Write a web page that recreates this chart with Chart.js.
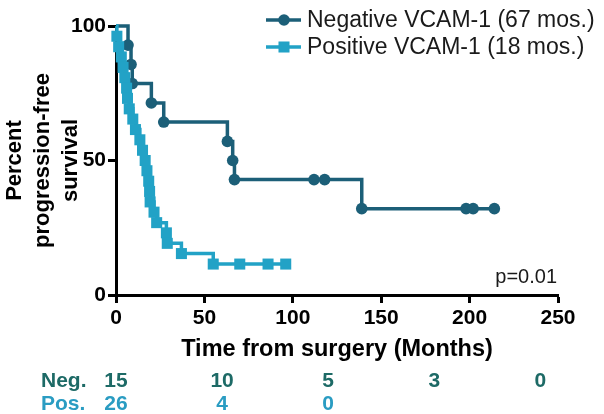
<!DOCTYPE html>
<html><head><meta charset="utf-8">
<script src="https://cdn.jsdelivr.net/npm/chart.js@4/dist/chart.umd.min.js"></script>
<style>html,body{margin:0;padding:0;background:#fff}#wrap{width:604px;height:414px;position:relative}</style>
</head><body><div id="wrap"><canvas id="c" width="604" height="414"></canvas></div>
<script>
// ---- data ----
const seriesLabels = ['Negative VCAM-1 (67 mos.)', 'Positive VCAM-1 (18 mos.)'];
const negTimes = [0, 6.8, 8.5, 9.2, 20, 27, 63, 66, 67, 112, 118, 139, 198, 202, 214];
const negSurv  = [100, 92.9, 85.7, 78.6, 71.4, 64.3, 57.1, 50, 42.9, 42.9, 42.9, 32.1, 32.1, 32.1, 32.1];
const posTimes = [0, 0.5, 1.5, 3, 4, 5, 6, 6.5, 7.5, 9.5, 11, 13.5, 15, 16.5, 17.5, 18.5, 19, 19.3, 21.5, 23, 28.5, 29, 37, 55, 70, 86, 96];
const posSurv  = [100, 96.2, 92.3, 88.5, 84.6, 80.8, 76.9, 73.1, 69.2, 65.4, 61.5, 57.7, 53.8, 50, 46.2, 42.3, 38.5, 34.6, 30.8, 26.9, 23.1, 19.2, 15.4, 11.5, 11.5, 11.5, 11.5];
const xTicks = [0, 50, 100, 150, 200, 250];
const yTicks = [0, 50, 100];
const xTitle = 'Time from surgery (Months)';
const yTitle = ['Percent', 'progression-free', 'survival'];
const riskTimes = [0, 60, 120, 180, 240];
const riskLabels = ['Neg.', 'Pos.'];
const negAtRisk = [15, 10, 5, 3, 0];
const posAtRisk = [26, 4, 0];
const pValueText = 'p=0.01';

const NEG_COLOR = '#1c5f78';
const POS_COLOR = '#22a2c6';
const NEG_TEXT = '#1d6a66';
const POS_TEXT = '#2a9cc2';
const FONT = "'Liberation Sans', Arial, Helvetica, sans-serif";

const toPts = (t, s) => t.map((v, i) => ({x: v, y: s[i]}));

const extras = {
  id: 'extras',
  afterDraw(chart) {
    const ctx = chart.ctx;
    const xs = chart.scales.x;
    ctx.save();
    // legend
    const legendRows = [
      {label: seriesLabels[0], color: NEG_COLOR, style: 'circle', r: 5.8, y: 20},
      {label: seriesLabels[1], color: POS_COLOR, style: 'rect', r: 7.8, y: 47}
    ];
    legendRows.forEach(row => {
      ctx.strokeStyle = row.color; ctx.lineWidth = 3.5;
      ctx.beginPath(); ctx.moveTo(266, row.y); ctx.lineTo(301, row.y); ctx.stroke();
      ctx.fillStyle = row.color;
      Chart.helpers.drawPoint(ctx, {pointStyle: row.style, radius: row.r, rotation: 0, borderWidth: 0}, 284, row.y);
      ctx.fillStyle = '#1a1a1a';
      ctx.font = '23px ' + FONT;
      ctx.textAlign = 'left'; ctx.textBaseline = 'middle';
      ctx.fillText(row.label, 307, row.y + 1);
    });
    // p value
    ctx.fillStyle = '#1a1a1a';
    ctx.font = '20px ' + FONT;
    ctx.textAlign = 'right'; ctx.textBaseline = 'alphabetic';
    ctx.fillText(pValueText, 557, 283);
    // numbers at risk
    ctx.font = 'bold 21px ' + FONT;
    ctx.textBaseline = 'middle';
    [[negAtRisk, NEG_TEXT, 381], [posAtRisk, POS_TEXT, 404]].forEach(([vals, col, y], k) => {
      ctx.fillStyle = col;
      ctx.textAlign = 'left';
      ctx.fillText(riskLabels[k], 41, y);
      ctx.textAlign = 'center';
      vals.forEach((v, i) => ctx.fillText(String(v), xs.getPixelForValue(riskTimes[i]), y));
    });
    ctx.restore();
  }
};

new Chart(document.getElementById('c'), {
  type: 'scatter',
  data: {
    datasets: [
      {label: seriesLabels[0], data: toPts(negTimes, negSurv), showLine: true, stepped: 'before',
       borderColor: NEG_COLOR, backgroundColor: NEG_COLOR, borderWidth: 3.5, pointStyle: 'circle',
       pointRadius: c => c.dataIndex === 0 ? 0 : 5.8, pointBorderWidth: 0, clip: false, order: 2},
      {label: seriesLabels[1], data: toPts(posTimes, posSurv), showLine: true, stepped: 'before',
       borderColor: POS_COLOR, backgroundColor: POS_COLOR, borderWidth: 3.5, pointStyle: 'rect',
       pointRadius: c => c.dataIndex === 0 ? 0 : 7.8, pointBorderWidth: 0, clip: false, order: 1}
    ]
  },
  options: {
    responsive: false, animation: false, devicePixelRatio: 1,
    layout: {padding: {left: 0, top: 26, right: 46, bottom: 50}},
    plugins: {legend: {display: false}, tooltip: {enabled: false}},
    scales: {
      x: {
        type: 'linear', min: 0, max: 250,
        afterBuildTicks: s => { s.ticks = xTicks.map(v => ({value: v})); },
        afterFit: s => { s.height = 69; },
        ticks: {color: '#000', font: {family: FONT, size: 21, weight: 'bold'}, padding: 3, maxRotation: 0},
        grid: {display: true, drawOnChartArea: false, drawTicks: true, tickLength: 8, tickWidth: 3, tickColor: '#000'},
        border: {display: true, color: '#000', width: 3},
        title: {display: true, text: xTitle, color: '#000', font: {family: FONT, size: 23.5, weight: 'bold'}, padding: 0}
      },
      y: {
        type: 'linear', min: 0, max: 100,
        afterBuildTicks: s => { s.ticks = yTicks.map(v => ({value: v})); },
        afterFit: s => { s.width = 116; },
        ticks: {color: '#000', font: {family: FONT, size: 21, weight: 'bold'}, padding: 2},
        grid: {display: true, drawOnChartArea: false, drawTicks: true, tickLength: 8, tickWidth: 3, tickColor: '#000'},
        border: {display: true, color: '#000', width: 3},
        title: {display: true, text: yTitle, color: '#000', font: {family: FONT, size: 22, weight: 'bold', lineHeight: 1.28}, padding: {top: 1, bottom: 0}}
      }
    }
  },
  plugins: [extras]
});
</script></body></html>
